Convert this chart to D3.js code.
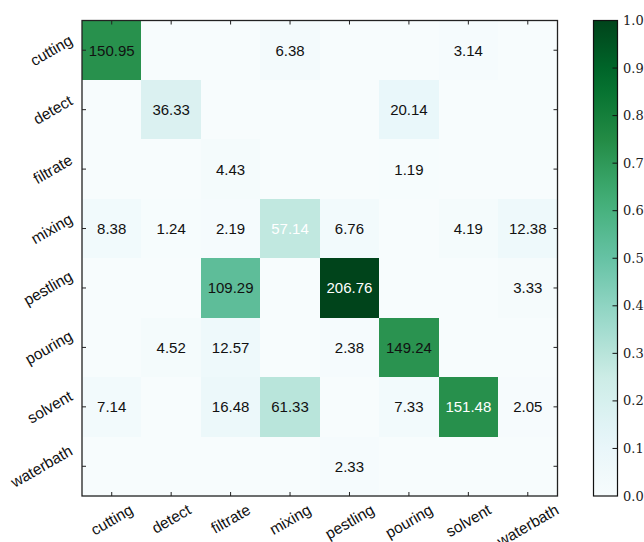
<!DOCTYPE html>
<html><head><meta charset="utf-8">
<script src="https://cdn.jsdelivr.net/npm/d3@7"></script>
<style>body{margin:0;background:#fff;}svg{display:block;}</style>
</head><body>
<svg id="chart" width="644" height="542"></svg>
<script>
const categories = ["cutting","detect","filtrate","mixing","pestling","pouring","solvent","waterbath"];
const rowCutting   = [150.95, 0, 0, 6.38, 0, 0, 3.14, 0];
const rowDetect    = [0, 36.33, 0, 0, 0, 20.14, 0, 0];
const rowFiltrate  = [0, 0, 4.43, 0, 0, 1.19, 0, 0];
const rowMixing    = [8.38, 1.24, 2.19, 57.14, 6.76, 0, 4.19, 12.38];
const rowPestling  = [0, 0, 109.29, 0, 206.76, 0, 0, 3.33];
const rowPouring   = [0, 4.52, 12.57, 0, 2.38, 149.24, 0, 0];
const rowSolvent   = [7.14, 0, 16.48, 61.33, 0, 7.33, 151.48, 2.05];
const rowWaterbath = [0, 0, 0, 0, 2.33, 0, 0, 0];
const matrix = [rowCutting,rowDetect,rowFiltrate,rowMixing,rowPestling,rowPouring,rowSolvent,rowWaterbath];
// cells whose label is drawn in white: [row, col]
const whiteLabels = [[3,3],[4,4],[6,6]];
const colorbarTicks = [0.0,0.1,0.2,0.3,0.4,0.5,0.6,0.7,0.8,0.9,1.0];
const bugn = ["#f7fcfd","#e5f5f9","#ccece6","#99d8c9","#66c2a4","#41ae76","#238b45","#006d2c","#00441b"];

const svg = d3.select("#chart");
const L = 82, T = 20.5, R = 557.5, B = 496;
const maxV = d3.max(matrix.flat());
const x = d3.scaleBand().domain(categories).range([L, R]);
const y = d3.scaleBand().domain(categories).range([T, B]);
const interp = d3.piecewise(d3.interpolateRgb, bugn);
const color = d3.scaleSequential(v => interp(v)).domain([0, maxV]);

const cells = [];
matrix.forEach((row, i) => row.forEach((v, j) => cells.push({i, j, v})));

svg.append("g").selectAll("rect").data(cells).join("rect")
  .attr("x", d => x(categories[d.j])).attr("y", d => y(categories[d.i]))
  .attr("width", x.bandwidth() + 0.5).attr("height", y.bandwidth() + 0.5)
  .attr("fill", d => color(d.v)).attr("shape-rendering","crispEdges");

const isWhite = d => whiteLabels.some(w => w[0] === d.i && w[1] === d.j);
svg.append("g").selectAll("text").data(cells.filter(d => d.v > 0)).join("text")
  .attr("x", d => x(categories[d.j]) + x.bandwidth()/2)
  .attr("y", d => y(categories[d.i]) + y.bandwidth()/2)
  .attr("text-anchor","middle").attr("dominant-baseline","central")
  .attr("font-family","Liberation Sans, Arial, sans-serif").attr("font-size", 15)
  .attr("fill", d => isWhite(d) ? "#ffffff" : "#111111")
  .text(d => d.v.toFixed(2));

// ticks (inward)
const tl = 4;
const tg = svg.append("g").attr("stroke","#222").attr("stroke-width",1);
categories.forEach(c => {
  const cx = x(c) + x.bandwidth()/2, cy = y(c) + y.bandwidth()/2;
  tg.append("line").attr("x1",cx).attr("x2",cx).attr("y1",T).attr("y2",T+tl);
  tg.append("line").attr("x1",cx).attr("x2",cx).attr("y1",B).attr("y2",B-tl);
  tg.append("line").attr("x1",L).attr("x2",L+tl).attr("y1",cy).attr("y2",cy);
  tg.append("line").attr("x1",R).attr("x2",R-tl).attr("y1",cy).attr("y2",cy);
});
svg.append("rect").attr("x",L).attr("y",T).attr("width",R-L).attr("height",B-T)
  .attr("fill","none").attr("stroke","#222").attr("stroke-width",1.3);

// rotated labels
const lblFont = 15.5, ang = 30*Math.PI/180, fh = 12;
function addLabel(text, placer) {
  const t = svg.append("text").attr("font-family","Liberation Sans, Arial, sans-serif")
    .attr("font-size", lblFont).attr("fill","#111").attr("text-anchor","middle")
    .attr("dominant-baseline","central").text(text);
  const w = t.node().getComputedTextLength();
  const bw = w*Math.cos(ang) + fh*Math.sin(ang);
  const bh = w*Math.sin(ang) + fh*Math.cos(ang);
  const [cx, cy] = placer(bw, bh);
  t.attr("transform", `translate(${cx},${cy}) rotate(-30)`);
}
categories.forEach(c => {
  const cy = y(c) + y.bandwidth()/2;
  addLabel(c, (bw, bh) => [74 - bw/2, cy]);
  const cx = x(c) + x.bandwidth()/2;
  addLabel(c, (bw, bh) => [cx, 503 + bh/2]);
});

// colorbar
const cbL = 593.5, cbR = 617.5;
const cy = d3.scaleLinear().domain([0,1]).range([B, T]);
const defs = svg.append("defs");
const grad = defs.append("linearGradient").attr("id","cbg").attr("x1",0).attr("y1",1).attr("x2",0).attr("y2",0);
d3.range(0, 1.0001, 0.05).forEach(s => grad.append("stop").attr("offset", s).attr("stop-color", interp(s)));
svg.append("rect").attr("x",cbL).attr("y",T).attr("width",cbR-cbL).attr("height",B-T)
  .attr("fill","url(#cbg)").attr("stroke","#111").attr("stroke-width",1.2);
const cbg = svg.append("g");
colorbarTicks.forEach(v => {
  if (v > 0 && v < 1) cbg.append("line").attr("x1",cbR-5).attr("x2",cbR).attr("y1",cy(v)).attr("y2",cy(v))
    .attr("stroke","#111").attr("stroke-width",1);
  cbg.append("text").attr("x",623).attr("y",cy(v)).attr("dominant-baseline","central")
    .attr("font-family","DejaVu Serif, serif").attr("font-size",13).attr("fill","#222")
    .text(v.toFixed(1));
});
</script>
</body></html>
